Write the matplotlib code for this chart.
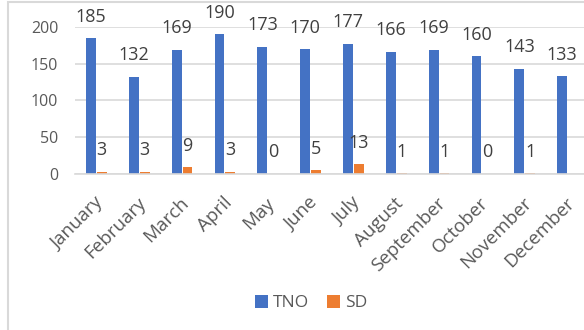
import numpy as np
import matplotlib.pyplot as plt
import matplotlib.transforms as mtransforms
from matplotlib.patches import Rectangle

months = ["January", "February", "March", "April", "May", "June", "July",
          "August", "September", "October", "November", "December"]
tno = [185, 132, 169, 190, 173, 170, 177, 166, 169, 160, 143, 133]
sd = [3, 3, 9, 3, 0, 5, 13, 1, 1, 0, 1, np.nan]

blue = "#4472C4"
orange = "#ED7D31"
grey_text = "#595959"
grid = "#D9D9D9"

plt.rcParams['font.family'] = ['Open Sans', 'DejaVu Sans']

fig = plt.figure(figsize=(5.84, 3.30), dpi=100)
ax = fig.add_axes([75 / 584, 1 - 174 / 330, 514 / 584, 147 / 330])

x = np.arange(len(months))
w = 0.23
b1 = ax.bar(x - w / 2 - 0.01, tno, w, color=blue, label="TNO")
b2 = ax.bar(x + w / 2 + 0.01, sd, w, color=orange, label="SD")

# value labels above every bar
for bars, vals in ((b1, tno), (b2, sd)):
    for rect, v in zip(bars, vals):
        if np.isnan(v):
            continue
        ax.annotate(f"{int(v)}", (rect.get_x() + rect.get_width() / 2, v),
                    xytext=(0, 9), textcoords="offset points",
                    ha="center", va="bottom", fontsize=13, color="#404040")

ax.set_xlim(-0.5, len(months) - 0.5)
ax.set_ylim(0, 200)
ax.set_yticks([0, 50, 100, 150, 200])
ax.yaxis.grid(True, color=grid, linewidth=1.2)
ax.set_axisbelow(True)
for s in ("top", "right", "left"):
    ax.spines[s].set_visible(False)
ax.spines["bottom"].set_color(grid)
ax.spines["bottom"].set_linewidth(1.2)
ax.tick_params(axis="both", length=0, labelsize=11.5, labelcolor=grey_text)
ax.tick_params(axis="y", pad=12)
ax.set_xticks(x)
ax.set_xticklabels(months, rotation=45, ha="right", va="center",
                   rotation_mode="anchor", fontsize=13.5)
ax.tick_params(axis="x", pad=19)
shift = mtransforms.ScaledTranslation(4 / 100, 0, fig.dpi_scale_trans)
for lbl in ax.get_xticklabels():
    lbl.set_transform(lbl.get_transform() + shift)

fig.legend(handles=[b1, b2], loc="center", bbox_to_anchor=(311 / 584, 1 - 303 / 330),
           ncol=2, frameon=False, fontsize=12.5, handlelength=0.75,
           handleheight=0.75, handletextpad=0.3, columnspacing=1.0,
           labelcolor=grey_text)

# chart area frame
fig.patches.append(Rectangle((8 / 584, -0.1), 1.2, 1 - 2 / 330 + 0.1,
                             transform=fig.transFigure, fill=False,
                             edgecolor=grid, linewidth=1.5))

fig.savefig("out.png", dpi=100)
